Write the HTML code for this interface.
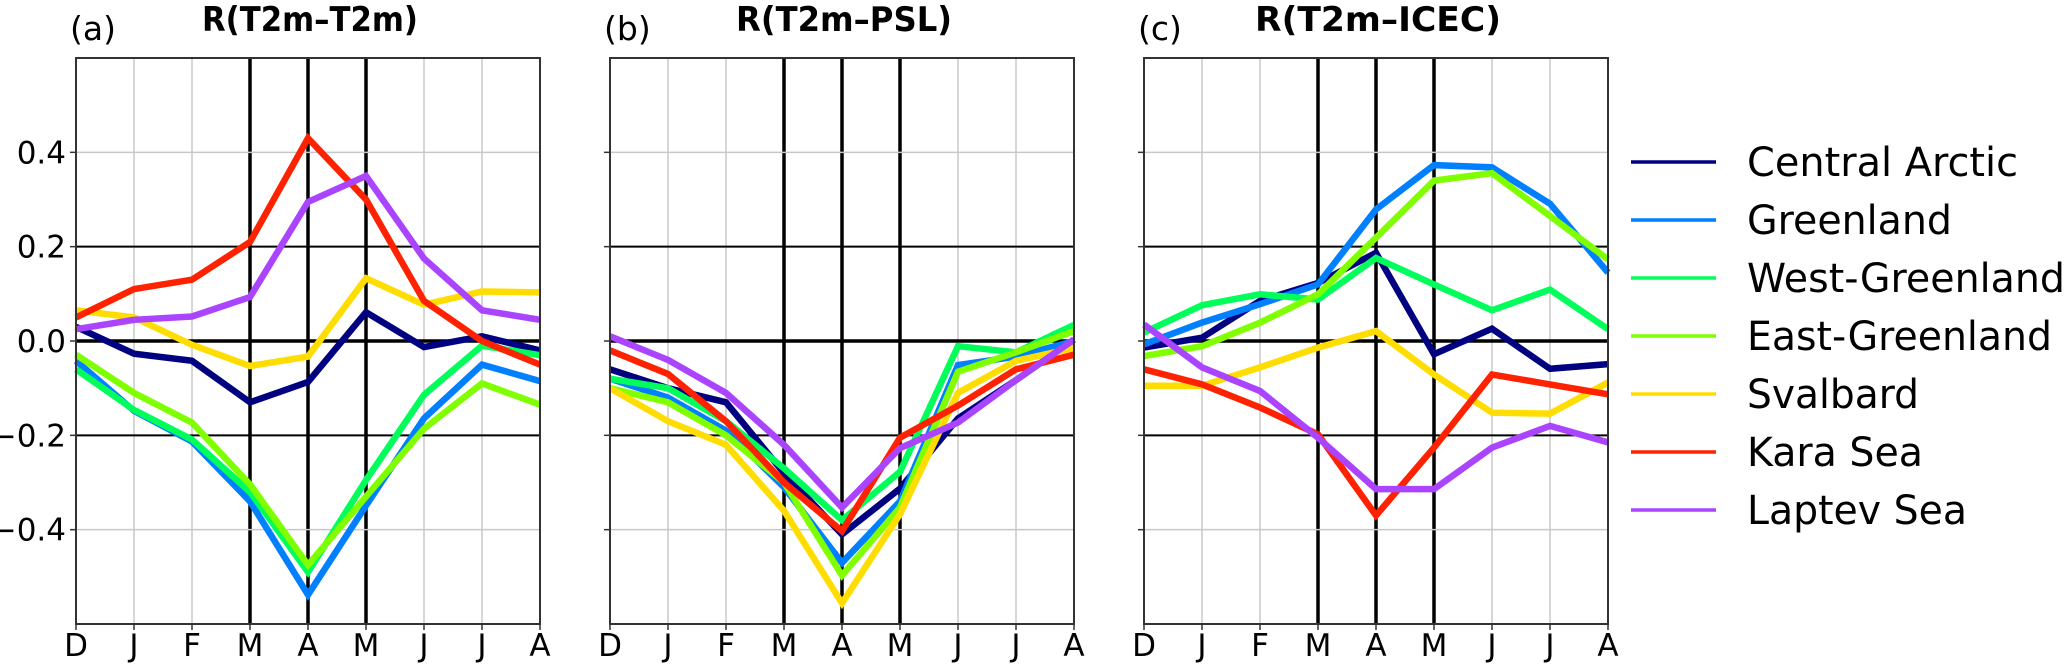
<!DOCTYPE html>
<html><head><meta charset="utf-8"><style>
html,body{margin:0;padding:0;background:#fff;}
svg{display:block;}
text{font-family:"DejaVu Sans","Liberation Sans",sans-serif;fill:#000;}
</style></head><body>
<svg id="chart" width="2067" height="664" viewBox="0 0 2067 664" xmlns="http://www.w3.org/2000/svg"></svg>
<script>
const months = ["D","J","F","M","A","M","J","J","A"];
const seriesNames = ["Central Arctic","Greenland","West-Greenland","East-Greenland","Svalbard","Kara Sea","Laptev Sea"];
const seriesColors = ["#000080","#0080ff","#00ff5a","#7fff00","#ffdd00","#ff2200","#aa44ff"];
const yTicks = [0.4,0.2,0.0,-0.2,-0.4];
const yTickLabels = ["0.4","0.2","0.0","\u22120.2","\u22120.4"];
const panelTitles = ["R(T2m\u2013T2m)","R(T2m\u2013PSL)","R(T2m\u2013ICEC)"];
const panelLetters = ["(a)","(b)","(c)"];
// panel (a) T2m-T2m
const aCentral = [0.03,-0.027,-0.042,-0.13,-0.087,0.061,-0.013,0.01,-0.02];
const aGreen   = [-0.042,-0.148,-0.213,-0.34,-0.538,-0.349,-0.164,-0.05,-0.085];
const aWest    = [-0.06,-0.146,-0.209,-0.32,-0.49,-0.295,-0.114,-0.01,-0.03];
const aEast    = [-0.029,-0.11,-0.173,-0.304,-0.475,-0.33,-0.186,-0.09,-0.135];
const aSval    = [0.065,0.05,-0.008,-0.053,-0.033,0.133,0.077,0.105,0.103];
const aKara    = [0.05,0.11,0.13,0.21,0.43,0.30,0.085,0.0,-0.05];
const aLaptev  = [0.025,0.045,0.052,0.093,0.295,0.35,0.175,0.065,0.045];
// panel (b) T2m-PSL
const bCentral = [-0.06,-0.1,-0.13,-0.28,-0.41,-0.313,-0.164,-0.083,0.003];
const bGreen   = [-0.08,-0.12,-0.19,-0.31,-0.47,-0.34,-0.051,-0.033,0.0];
const bWest    = [-0.08,-0.1,-0.17,-0.27,-0.38,-0.277,-0.011,-0.024,0.034];
const bEast    = [-0.1,-0.13,-0.2,-0.3,-0.497,-0.353,-0.065,-0.024,0.021];
const bSval    = [-0.1,-0.17,-0.22,-0.36,-0.556,-0.367,-0.11,-0.042,-0.015];
const bKara    = [-0.02,-0.07,-0.17,-0.3,-0.403,-0.205,-0.137,-0.06,-0.029];
const bLaptev  = [0.01,-0.04,-0.11,-0.22,-0.353,-0.227,-0.173,-0.083,0.003];
// panel (c) T2m-ICEC
const cCentral = [-0.014,0.007,0.085,0.123,0.187,-0.028,0.026,-0.059,-0.049];
const cGreen   = [-0.007,0.039,0.078,0.12,0.279,0.373,0.368,0.291,0.145];
const cWest    = [0.018,0.076,0.099,0.088,0.176,0.12,0.065,0.109,0.025];
const cEast    = [-0.032,-0.011,0.039,0.099,0.219,0.34,0.356,0.265,0.173];
const cSval    = [-0.095,-0.095,-0.056,-0.014,0.021,-0.071,-0.152,-0.154,-0.088];
const cKara    = [-0.06,-0.092,-0.141,-0.198,-0.37,-0.226,-0.071,-0.092,-0.113];
const cLaptev  = [0.035,-0.056,-0.106,-0.205,-0.314,-0.314,-0.226,-0.18,-0.215];

const panelData = [
  [aCentral,aGreen,aWest,aEast,aSval,aKara,aLaptev],
  [bCentral,bGreen,bWest,bEast,bSval,bKara,bLaptev],
  [cCentral,cGreen,cWest,cEast,cSval,cKara,cLaptev]
];

const NS="http://www.w3.org/2000/svg";
const svg=document.getElementById('chart');
function mk(tag,attrs,parent){const e=document.createElementNS(NS,tag);for(const k in attrs)e.setAttribute(k,attrs[k]);(parent||svg).appendChild(e);return e;}

const panelLefts=[76,610,1144];
const PW=464, TOP=58, BOT=624, YMIN=-0.6, YMAX=0.6;
function yScale(v){return TOP+(YMAX-v)/(YMAX-YMIN)*(BOT-TOP);}

panelLefts.forEach((L,p)=>{
  const xScale=i=>L+i*PW/(months.length-1);
  const g=mk('g',{});
  
  
  // vertical grid
  months.forEach((m,i)=>{
    const bold=(i>=3&&i<=5);
    const ln=mk('line',{x1:xScale(i),x2:xScale(i),y1:TOP,y2:BOT,stroke:bold?'#000':'#c8c8c8','stroke-width':bold?3.5:1.5},g);
    
    
    const tk=mk('line',{x1:xScale(i),x2:xScale(i),y1:BOT,y2:BOT+6,stroke:'#333','stroke-width':1.5},g);
    
    
    const t=mk('text',{x:xScale(i),y:656,'text-anchor':'middle','font-size':31},g);
    t.textContent=m;
    
    
  });
  // horizontal grid
  yTicks.forEach((v,k)=>{
    const isZero=Math.abs(v)<1e-9, isBlack=Math.abs(Math.abs(v)-0.2)<1e-9;
    const ln=mk('line',{x1:L,x2:L+PW,y1:yScale(v),y2:yScale(v),stroke:(isZero||isBlack)?'#000':'#c8c8c8','stroke-width':isZero?3.5:(isBlack?2:1.5)},g);
    
    
    const tk=mk('line',{x1:L-6,x2:L,y1:yScale(v),y2:yScale(v),stroke:'#333','stroke-width':1.5},g);
    
    
    if(p===0){
      const t=mk('text',{x:66,y:yScale(v)+11,'text-anchor':'end','font-size':31},g);
      t.textContent=yTickLabels[k];
      
      
    }
  });
  // series
  panelData[p].forEach((vals,s)=>{
    const pts=vals.map((v,i)=>xScale(i).toFixed(1)+','+yScale(v).toFixed(1)).join(' ');
    const pl=mk('polyline',{points:pts,fill:'none',stroke:seriesColors[s],'stroke-width':6.5,'stroke-linejoin':'miter'},g);
    
    
  });
  // frame
  const fr=mk('rect',{x:L,y:TOP,width:PW,height:BOT-TOP,fill:'none',stroke:'#333','stroke-width':2},g);
  
  
  // letter and title
  const lt=mk('text',{x:L-6,y:40,'font-size':33},g);
  lt.textContent=panelLetters[p];
  
  
  const tt=mk('text',{x:L+PW/2+2,y:31,'text-anchor':'middle','font-size':34,'font-weight':'bold',textLength:p===2?246:216,lengthAdjust:'spacingAndGlyphs'},g);
  tt.textContent=panelTitles[p];
  
  
});

// legend
const lg=mk('g',{});


const legendWidths=[271,205,318,305,172,176,220];
seriesNames.forEach((n,s)=>{
  const y=162+s*58;
  const ln=mk('line',{x1:1631,x2:1716,y1:y,y2:y,stroke:seriesColors[s],'stroke-width':3.5},lg);
  
  
  const t=mk('text',{x:1747,y:y+14,'font-size':40,textLength:legendWidths[s],lengthAdjust:'spacingAndGlyphs'},lg);
  t.textContent=n;
  
  
});
</script>
</body></html>
